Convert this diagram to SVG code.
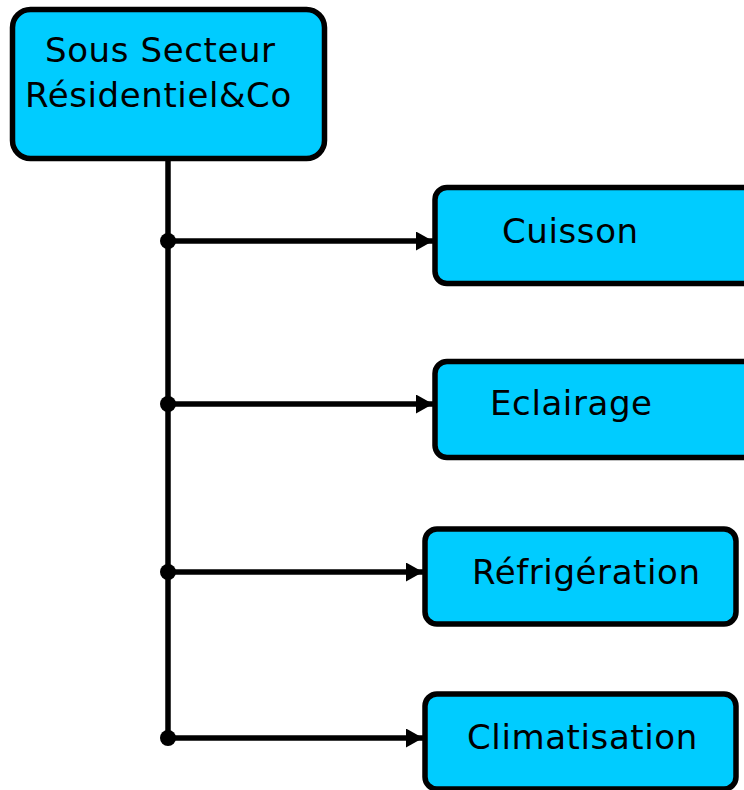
<svg xmlns="http://www.w3.org/2000/svg" width="744" height="790" viewBox="0 0 744 790">
  <style>
    .box { fill: #00ccff; stroke: #000; stroke-width: 5.5; }
    .label { font-family: "DejaVu Sans", "Liberation Sans", sans-serif; font-size: 34px; letter-spacing: 0.6px; fill: #000; }
    .wire { stroke: #000; stroke-width: 5.5; fill: none; }
    .dot { fill: #000; }
  </style>
  <defs>
    <marker id="arrow" viewBox="0 0 17 19" refX="17" refY="9.5" markerWidth="17" markerHeight="19" markerUnits="userSpaceOnUse" orient="auto">
      <path d="M0,0 L17,9.5 L0,19 Z" fill="#000"/>
    </marker>
  </defs>

  <g id="connectors">
    <line class="wire" x1="168" y1="159" x2="168" y2="738"/>
    <line class="wire" x1="168" y1="241" x2="433" y2="241" marker-end="url(#arrow)"/>
    <line class="wire" x1="168" y1="404" x2="433" y2="404" marker-end="url(#arrow)"/>
    <line class="wire" x1="168" y1="572" x2="423" y2="572" marker-end="url(#arrow)"/>
    <line class="wire" x1="168" y1="738" x2="423" y2="738" marker-end="url(#arrow)"/>
    <circle class="dot" cx="168" cy="241" r="8"/>
    <circle class="dot" cx="168" cy="404" r="8"/>
    <circle class="dot" cx="168" cy="572" r="8"/>
    <circle class="dot" cx="168" cy="738" r="8"/>
  </g>

  <g id="root">
    <rect class="box" x="12.5" y="9.5" width="312" height="149" rx="18"/>
    <text class="label" x="45" y="62">Sous Secteur</text>
    <text class="label" x="25" y="107">Résidentiel&amp;Co</text>
  </g>

  <g id="cuisson">
    <rect class="box" x="435" y="187.5" width="320" height="96" rx="12"/>
    <text class="label" x="502" y="243">Cuisson</text>
  </g>

  <g id="eclairage">
    <rect class="box" x="435" y="361.5" width="320" height="96" rx="12"/>
    <text class="label" x="490" y="415">Eclairage</text>
  </g>

  <g id="refrigeration">
    <rect class="box" x="425" y="529" width="311" height="95" rx="12"/>
    <text class="label" x="472" y="584">Réfrigération</text>
  </g>

  <g id="climatisation">
    <rect class="box" x="425" y="694" width="311" height="95" rx="12"/>
    <text class="label" x="467" y="749">Climatisation</text>
  </g>
</svg>
